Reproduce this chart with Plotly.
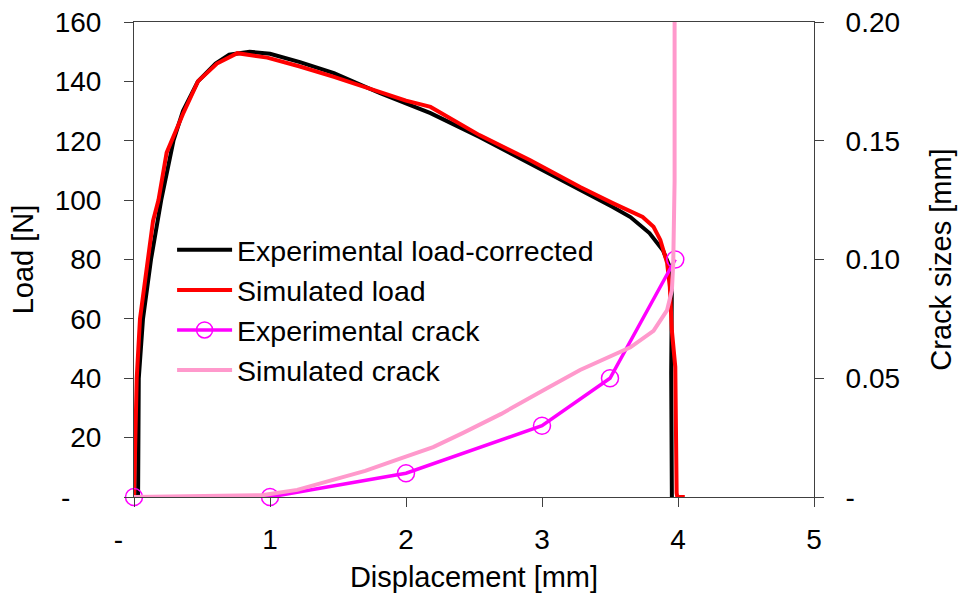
import plotly.graph_objects as go

# Experimental load-corrected (black)
exp_load_x = [0.03, 0.032, 0.035, 0.066, 0.125, 0.2, 0.29, 0.36, 0.47, 0.6, 0.7, 0.85, 1.0,
              1.22, 1.47, 1.81, 2.18, 2.54, 2.91, 3.28, 3.52, 3.65, 3.79, 3.89, 3.94, 3.955,
              3.95, 3.955]
exp_load_y = [0, 20, 40, 60, 80, 100, 120, 130, 140, 146, 149, 150, 149.3,
              146.5, 142.8, 136, 129.3, 121.3, 112.5, 103.4, 97.7, 94.3, 88.9, 83, 77.5, 73,
              41.7, 0]

# Simulated load (red)
sim_load_x = [0, 0.008, 0.02, 0.044, 0.10, 0.14, 0.18, 0.24, 0.36, 0.47, 0.61, 0.76, 0.98,
              1.22, 1.47, 1.81, 2.0, 2.18, 2.54, 2.91, 3.28, 3.52, 3.74, 3.82, 3.87, 3.92,
              3.94, 3.955, 3.98, 3.99, 3.995, 4.05]
sim_load_y = [0, 25, 40, 60, 80, 93, 100, 116, 129, 140, 146, 149.5, 148,
              145, 141.5, 136.4, 133.5, 131.4, 121.9, 113.5, 104.4, 99, 94.3, 91, 86.6, 78.8,
              70.7, 56, 43.8, 1.3, 0, 0]

# Experimental crack (magenta, markers)
exp_crack_x = [0, 1, 2, 3, 3.5, 3.98]
exp_crack_y = [0, 0, 0.01, 0.03, 0.05, 0.10]

# Simulated crack (pink)
sim_crack_x = [0, 0.5, 0.95, 1.2, 1.44, 1.7, 1.93, 2.2, 2.42, 2.7, 3.04, 3.28, 3.65, 3.82,
               3.92, 3.955, 3.965, 3.975, 3.975]
sim_crack_y = [0, 0.0003, 0.0008, 0.003, 0.007, 0.011, 0.0156, 0.021, 0.027, 0.035, 0.0459,
               0.0535, 0.063, 0.070, 0.0787, 0.087, 0.0985, 0.133, 0.21]

x_ticks = [0, 1, 2, 3, 4, 5]
x_ticktext = ["-\u00a0\u00a0\u00a0\u00a0", "1", "2", "3", "4", "5"]
y_ticks = [0, 20, 40, 60, 80, 100, 120, 140, 160]
y_ticktext = ["-\u00a0\u00a0\u00a0\u00a0"] + [str(v) for v in y_ticks[1:]]
y2_ticks = [0, 0.05, 0.10, 0.15, 0.20]
y2_ticktext = ["-", "0.05", "0.10", "0.15", "0.20"]

FONT = "Liberation Sans, Arial, sans-serif"
AXC = "#404040"

fig = go.Figure()
fig.add_trace(go.Scatter(x=exp_load_x, y=exp_load_y, mode="lines", name="Experimental load-corrected",
                         line=dict(color="black", width=4)))
fig.add_trace(go.Scatter(x=sim_load_x, y=sim_load_y, mode="lines", name="Simulated load",
                         line=dict(color="#ff0000", width=4)))
fig.add_trace(go.Scatter(x=exp_crack_x, y=exp_crack_y, mode="lines+markers", name="Experimental crack",
                         yaxis="y2", cliponaxis=False, line=dict(color="#ff00ff", width=3.5),
                         marker=dict(symbol="circle-open", size=17, color="#ff00ff",
                                     line=dict(width=1.5, color="#ff00ff"))))
fig.add_trace(go.Scatter(x=sim_crack_x, y=sim_crack_y, mode="lines", name="Simulated crack",
                         yaxis="y2", line=dict(color="#ff99cc", width=4)))

fig.update_layout(
    width=960, height=593,
    margin=dict(l=134, r=146, t=22, b=96),
    paper_bgcolor="white", plot_bgcolor="white",
    font=dict(family=FONT, size=28, color="black"),
    showlegend=True,
    legend=dict(x=0.056, y=0.573, xanchor="left", yanchor="top", bgcolor="rgba(0,0,0,0)",
                font=dict(size=28.5), itemwidth=55, tracegroupgap=0),
    xaxis=dict(range=[0, 5], tickvals=x_ticks, ticktext=x_ticktext, ticks="outside", ticklen=9,
               tickcolor=AXC, showline=True, linecolor=AXC, linewidth=1, mirror=True,
               showgrid=False, zeroline=False, ticklabelstandoff=8, automargin=False,
               title=dict(text="Displacement [mm]", standoff=14, font=dict(size=29))),
    yaxis=dict(range=[0, 160], tickvals=y_ticks, ticktext=y_ticktext, ticks="outside", ticklen=9,
               tickcolor=AXC, showline=True, linecolor=AXC, linewidth=1,
               showgrid=False, zeroline=False, ticklabelstandoff=17, automargin=False,
               title=dict(text="Load [N]", standoff=12, font=dict(size=29))),
    yaxis2=dict(range=[0, 0.2], tickvals=y2_ticks, ticktext=y2_ticktext, overlaying="y", side="right",
                ticks="outside", ticklen=9, tickcolor=AXC, showline=True, linecolor=AXC, linewidth=1,
                showgrid=False, zeroline=False, ticklabelstandoff=16, automargin=False,
                title=dict(text="Crack sizes [mm]", standoff=31, font=dict(size=29))),
    yaxis3=dict(range=[0, 0.2], tickvals=y2_ticks, overlaying="y", side="right", anchor="x",
                ticks="inside", ticklen=9, tickcolor=AXC, showline=False, showticklabels=False,
                showgrid=False, zeroline=False, automargin=False),
)

fig.write_html("out.html")
